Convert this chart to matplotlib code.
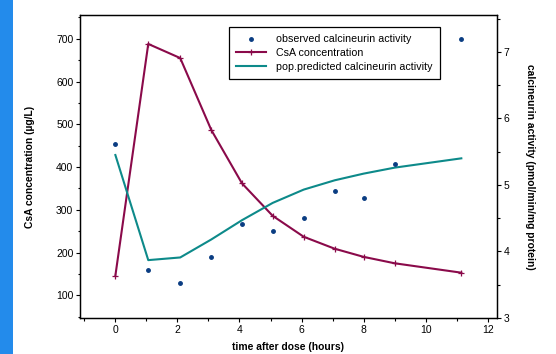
import matplotlib
matplotlib.use("Agg")
import matplotlib.pyplot as plt
from matplotlib.patches import Rectangle
from matplotlib.lines import Line2D
from matplotlib.ticker import MultipleLocator

plt.rcParams["font.family"] = ["Liberation Sans", "DejaVu Sans"]

# data
time_h = [0, 1.06, 2.09, 3.09, 4.08, 5.07, 6.07, 7.07, 8.0, 9.0, 11.15]
csa_conc = [146, 688, 655, 487, 362, 286, 237, 209, 190, 175, 153]
observed_act = [5.61, 3.72, 3.52, 3.92, 4.41, 4.31, 4.51, 4.91, 4.81, 5.31, 7.20]
predicted_act = [5.45, 3.87, 3.91, 4.18, 4.47, 4.73, 4.93, 5.07, 5.17, 5.26, 5.40]

C_CSA = "#8a0a4a"
C_PRED = "#0d8a8a"
C_OBS = "#0a3c82"

fig = plt.figure(figsize=(5.56, 3.54), dpi=100)
fig.patches.append(Rectangle((0, 0), 12.7 / 556, 1, transform=fig.transFigure,
                             facecolor="#238beb", edgecolor="none", zorder=0))

ax = fig.add_axes([80 / 556, 1 - 318 / 354, 417 / 556, 302.7 / 354])
ax2 = ax.twinx()

ax.plot(time_h, csa_conc, color=C_CSA, lw=1.5, marker="+", ms=4.5, mew=0.9)
ax2.plot(time_h, predicted_act, color=C_PRED, lw=1.5)
ax2.plot(time_h, observed_act, ls="none", marker="o", ms=2.5, color=C_OBS)

ax.set_xlim(-1.14, 12.3)
ax.set_ylim(47, 755)
ax2.set_ylim(3, 7.55)

ax.xaxis.set_major_locator(MultipleLocator(2))
ax.xaxis.set_minor_locator(MultipleLocator(1))
ax.yaxis.set_major_locator(MultipleLocator(100))
ax.yaxis.set_minor_locator(MultipleLocator(50))
ax.set_yticks(range(100, 701, 100))
ax2.yaxis.set_major_locator(MultipleLocator(1))
ax2.yaxis.set_minor_locator(MultipleLocator(0.5))

for a in (ax, ax2):
    a.tick_params(which="major", direction="out", length=2.8, width=0.8,
                  labelsize=7.5, pad=2)
    a.tick_params(which="minor", direction="out", length=1.8, width=0.8)
    for s in a.spines.values():
        s.set_linewidth(0.9)
ax.tick_params(axis="x", pad=2.5)

ax.set_ylabel("CsA concentration (\u00b5g/L)", fontsize=7.4, fontweight="bold")
ax.yaxis.set_label_coords(-0.108, 0.5)
ax2.set_ylabel("calcineurin activity (pmol/min/mg protein)", fontsize=7.4,
               fontweight="bold", rotation=-90, va="center")
ax2.yaxis.set_label_coords(1.079, 0.5)
ax.set_xlabel("time after dose (hours)", fontsize=7.4, fontweight="bold", va="center")
ax.xaxis.set_label_coords(0.498, -0.097)

handles = [
    Line2D([], [], ls="none", marker="o", ms=2.5, color=C_OBS),
    Line2D([], [], color=C_CSA, lw=1.5, marker="+", ms=4.5, mew=0.9),
    Line2D([], [], color=C_PRED, lw=1.5),
]
labels = ["observed calcineurin activity", "CsA concentration",
          "pop.predicted calcineurin activity"]
leg = ax2.legend(handles, labels, loc="upper left",
                 bbox_to_anchor=(229 / 556, 1 - 27 / 354),
                 bbox_transform=fig.transFigure, fontsize=7.7, frameon=True,
                 fancybox=False, edgecolor="black", framealpha=1,
                 borderpad=0.7, labelspacing=0.35, handlelength=2.75,
                 handletextpad=0.95, borderaxespad=0)
leg.get_frame().set_linewidth(0.9)

fig.savefig("out.png", dpi=100)
